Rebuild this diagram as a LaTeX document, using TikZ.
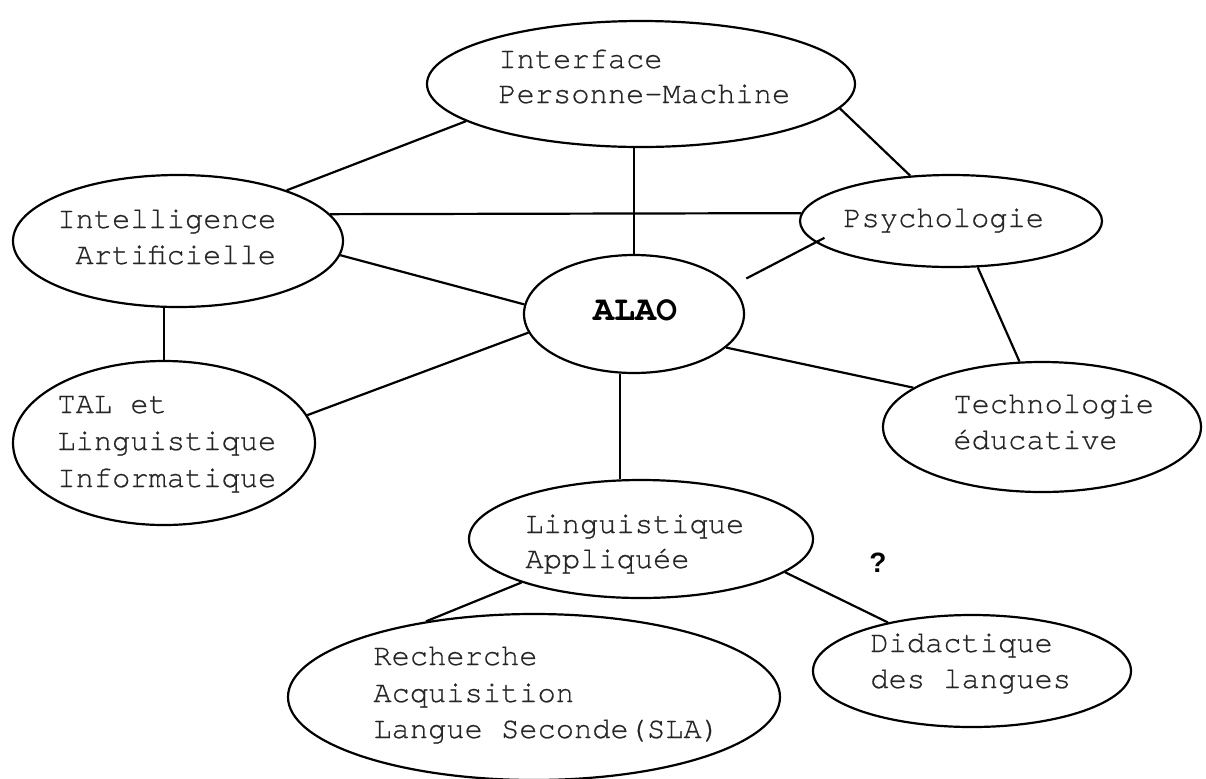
\documentclass[tikz,border=0pt]{standalone}
\usepackage{fontspec}
\setmainfont{Liberation Serif}
\newfontfamily\monof{texgyrecursor}[Extension=.otf, UprightFont=*-regular, BoldFont=*-bold, UprightFeatures={FakeBold=0.6}]
\newfontfamily\sansf{Liberation Sans}
\usetikzlibrary{shapes.geometric}
\begin{document}
\begin{tikzpicture}[x=0.5pt,y=-0.5pt,
  oval/.style={ellipse, draw, line width=1.1pt, inner sep=0pt},
  lbl/.style={anchor=base west, inner sep=0pt, text=black!85, font=\monof\fontsize{15.2}{17.5}\selectfont},
  link/.style={line width=1.1pt}]
\useasboundingbox (0,0) rectangle (1206,778);
% ellipses (minimum width in pt = x-radius in px)
\node[oval, minimum width=214pt, minimum height=63pt] (ipm)  at (641,84)  {};
\node[oval, minimum width=165pt, minimum height=66pt] (ia)   at (178,241) {};
\node[oval, minimum width=151pt, minimum height=82pt] (tal)  at (164,443) {};
\node[oval, minimum width=110pt, minimum height=59pt] (alao) at (634,314) {};
\node[oval, minimum width=151pt, minimum height=46pt] (psy)  at (951,221) {};
\node[oval, minimum width=159pt, minimum height=65pt] (tech) at (1042,427) {};
\node[oval, minimum width=172pt, minimum height=59pt] (la)   at (641,539) {};
\node[oval, minimum width=246pt, minimum height=83pt] (sla)  at (534,697) {};
\node[oval, minimum width=159pt, minimum height=56pt] (did)  at (972,671) {};
% texts
\node[lbl] (ipm1) at (498,68)  {Interface};
\node[lbl] (ipm2) at (498,103) {Personne-Machine};
\node[lbl] (ia1)  at (57,228)  {Intelligence};
\node[lbl] (ia2)  at (75,264)  {Artificielle};
\node[lbl] (tal1) at (57,413)  {TAL et};
\node[lbl] (tal2) at (57,450)  {Linguistique};
\node[lbl] (tal3) at (57,487)  {Informatique};
\node[lbl] (psy1) at (843,227) {Psychologie};
\node[lbl] (tech1) at (953,413) {Technologie};
\node[lbl] (tech2) at (953,449) {éducative};
\node[lbl] (la1)  at (525,533) {Linguistique};
\node[lbl] (la2)  at (525,568) {Appliquée};
\node[lbl] (sla1) at (373,665) {Recherche};
\node[lbl] (sla2) at (373,702) {Acquisition};
\node[lbl] (sla3) at (373,738) {Langue Seconde(SLA)};
\node[lbl] (did1) at (870,652) {Didactique};
\node[lbl] (did2) at (870,688) {des langues};
\node[anchor=base, inner sep=0pt, font=\monof\bfseries\fontsize{17.5}{20}\selectfont] (alaot) at (635,320) {ALAO};
\node[anchor=base, inner sep=0pt, font=\sansf\bfseries\fontsize{14}{16}\selectfont] (q) at (878,572) {?};
% connectors
\draw[link] (ia.25) -- (ipm.192);
\draw[link] (ia.10) -- (psy.177);
\draw[link] (ia.-5) -- (alao.175);
\draw[link] (tal.north |- ia.south) -- (tal.north);
\draw[link] (tal.11) -- (alao.190);
\draw[link] (alao.north) -- (alao.north |- ipm.south);
\draw[link] (ipm.-7) -- (psy.132);
\draw[link, shorten <=8pt, shorten >=-5pt] (alao.16) -- (psy.189);
\draw[link] (psy.-60) -- (tech.109);
\draw[link] (alao.-20) -- (tech.163);
\draw[link] (alao.257.5) -- (alao.257.5 |- la.north);
\draw[link] (la.200) -- (sla.145);
\draw[link] (la.-13) -- (did.150);
\end{tikzpicture}
\end{document}
